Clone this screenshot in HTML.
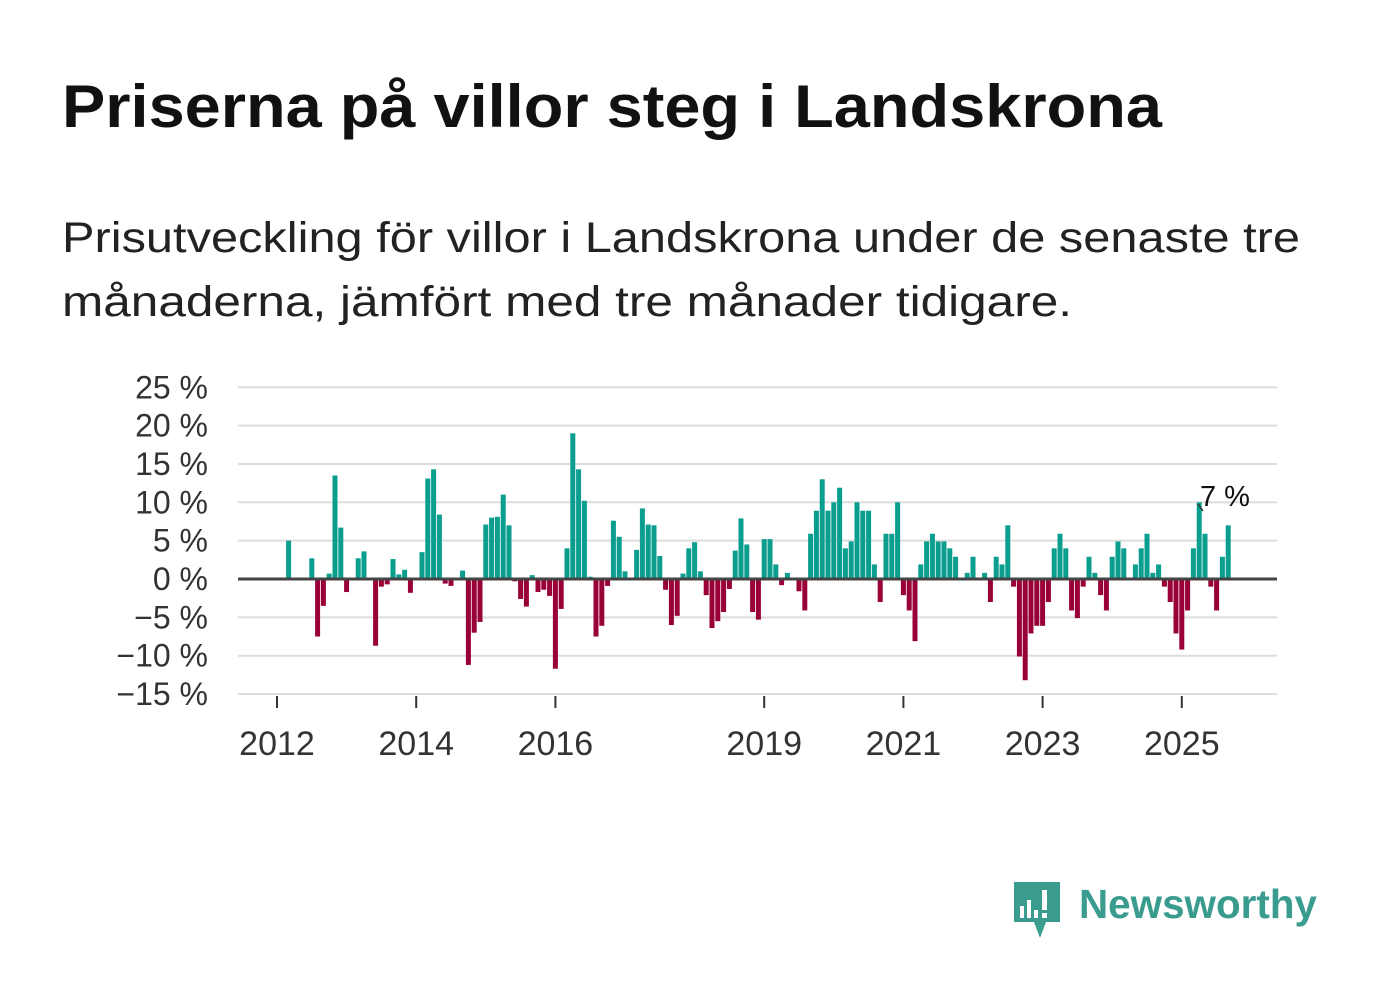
<!DOCTYPE html>
<html><head><meta charset="utf-8"><style>
body{margin:0;background:#fff;}
svg{display:block;font-family:"Liberation Sans",sans-serif;}
</style></head><body>
<svg width="1382" height="999" viewBox="0 0 1382 999">
<text x="62" y="127" font-size="60" font-weight="bold" fill="#111" textLength="1100" lengthAdjust="spacingAndGlyphs">Priserna på villor steg i Landskrona</text>
<text x="62" y="252" font-size="43" fill="#222" textLength="1238" lengthAdjust="spacingAndGlyphs">Prisutveckling för villor i Landskrona under de senaste tre</text>
<text x="62" y="316" font-size="43" fill="#222" textLength="1010" lengthAdjust="spacingAndGlyphs">månaderna, jämfört med tre månader tidigare.</text>
<g id="grid"></g>
<g id="bars"></g>
<g id="axes"></g>
<line x1="1198" y1="504" x2="1203" y2="511" stroke="#333" stroke-width="1.5"/>
<text x="1200" y="506" font-size="29" fill="#111">7 %</text>
<g>
<path d="M1014 882 H1060 V922 H1046 L1040 938 L1034 922 H1014 Z" fill="#3a9c8f" rx="4"/>
<rect x="1020" y="906" width="4" height="12" fill="#fff"/><rect x="1027" y="900" width="4" height="18" fill="#fff"/><rect x="1034" y="910" width="4" height="8" fill="#fff"/><rect x="1042" y="890" width="5" height="20" fill="#fff"/><rect x="1042" y="913" width="5" height="5" fill="#fff"/>
<text x="1079" y="918" font-size="41" font-weight="bold" fill="#3a9c8f" textLength="238" lengthAdjust="spacingAndGlyphs">Newsworthy</text>
</g>
</svg>
<script>
const startMonth = 2; // Mar 2012, months since Jan 2012
const values = [5.0,0,0,0,2.7,-7.5,-3.5,0.7,13.5,6.7,-1.7,0,2.7,3.6,0,-8.7,-1.0,-0.7,2.6,0.6,1.2,-1.8,0,3.5,13.1,14.3,8.4,-0.6,-0.9,0,1.1,-11.2,-7.0,-5.6,7.1,8.0,8.1,11.0,7.0,-0.3,-2.6,-3.6,0.5,-1.7,-1.4,-2.2,-11.7,-3.9,4.0,19.0,14.3,10.2,0.3,-7.5,-6.1,-0.9,7.6,5.5,1.0,0,3.8,9.2,7.1,7.0,3.0,-1.4,-6.0,-4.8,0.7,4.0,4.8,1.0,-2.1,-6.4,-5.5,-4.3,-1.3,3.7,7.9,4.5,-4.3,-5.3,5.2,5.2,1.9,-0.8,0.8,0,-1.6,-4.1,5.9,8.9,13.0,8.9,10.0,11.9,4.0,4.9,10.0,8.9,8.9,1.9,-3.0,5.9,5.9,10.0,-2.1,-4.1,-8.1,1.9,4.9,5.9,4.9,4.9,4.0,2.9,0,0.8,2.9,0,0.8,-3.0,2.9,1.9,7.0,-1.0,-10.1,-13.2,-7.1,-6.1,-6.1,-3.0,4.0,5.9,4.0,-4.1,-5.1,-1.0,2.9,0.8,-2.1,-4.1,2.9,4.9,4.0,0,1.9,4.0,5.9,0.8,1.9,-1.0,-3.0,-7.1,-9.2,-4.1,4.0,10.0,5.9,-1.0,-4.1,2.9,7.0];
const yTicks = [25,20,15,10,5,0,-5,-10,-15];
const yTickLabels = ["25 %","20 %","15 %","10 %","5 %","0 %","\u221210 %".replace("10","5").replace("\u22125","\u22125"),"\u221210 %","\u221215 %"];
yTickLabels[6] = "\u22125 %";
const xTickYears = [2012,2014,2016,2019,2021,2023,2025];

const NS="http://www.w3.org/2000/svg";
const x = m => 277 + m*5.8;
const y = v => 579 - v*7.67;
const grid=document.getElementById('grid'), bars=document.getElementById('bars'), axes=document.getElementById('axes');
yTicks.forEach((t,i)=>{
  const l=document.createElementNS(NS,'line');
  l.setAttribute('x1',238);l.setAttribute('x2',1277);l.setAttribute('y1',y(t));l.setAttribute('y2',y(t));
  l.setAttribute('stroke','#ddd');l.setAttribute('stroke-width',2);
  
  
  grid.appendChild(l);
  const tx=document.createElementNS(NS,'text');
  tx.setAttribute('x',208);tx.setAttribute('y',y(t)+11);tx.setAttribute('text-anchor','end');
  tx.setAttribute('font-size',32);tx.setAttribute('fill','#333');
  tx.textContent=yTickLabels[i];
  
  
  axes.appendChild(tx);
});
values.forEach((v,i)=>{
  if(v===0) return;
  const m=startMonth+i;
  const r=document.createElementNS(NS,'rect');
  r.setAttribute('x',x(m)-2.5);r.setAttribute('width',5);
  r.setAttribute('y',Math.min(y(v),y(0)));r.setAttribute('height',Math.abs(y(v)-y(0)));
  r.setAttribute('fill',v>0?'#0a9e8f':'#990038');
  
  
  bars.appendChild(r);
});
const z=document.createElementNS(NS,'line');
z.setAttribute('x1',238);z.setAttribute('x2',1277);z.setAttribute('y1',y(0));z.setAttribute('y2',y(0));
z.setAttribute('stroke','#444');z.setAttribute('stroke-width',3);


axes.appendChild(z);
xTickYears.forEach(yr=>{
  const m=(yr-2012)*12;
  const t=document.createElementNS(NS,'line');
  t.setAttribute('x1',x(m));t.setAttribute('x2',x(m));t.setAttribute('y1',696);t.setAttribute('y2',708);
  t.setAttribute('stroke','#333');t.setAttribute('stroke-width',2);
  
  
  axes.appendChild(t);
  const tx=document.createElementNS(NS,'text');
  tx.setAttribute('x',x(m));tx.setAttribute('y',755);tx.setAttribute('text-anchor','middle');
  tx.setAttribute('font-size',34);tx.setAttribute('fill','#333');
  tx.textContent=yr;
  
  
  axes.appendChild(tx);
});
</script>
</body></html>
